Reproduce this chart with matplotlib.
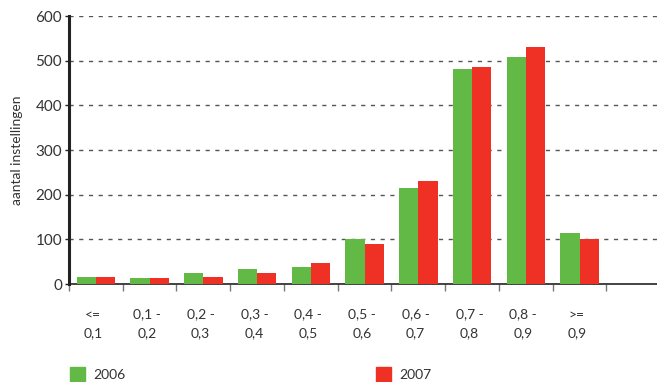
import matplotlib
matplotlib.use('Agg')
import matplotlib.pyplot as plt
import numpy as np

categories = ['<=\n0,1', '0,1 -\n0,2', '0,2 -\n0,3', '0,3 -\n0,4', '0,4 -\n0,5',
              '0,5 -\n0,6', '0,6 -\n0,7', '0,7 -\n0,8', '0,8 -\n0,9', '>=\n0,9']
values_2006 = [16, 14, 25, 34, 39, 101, 215, 481, 508, 114]
values_2007 = [16, 14, 16, 25, 48, 90, 231, 486, 531, 101]
series_labels = ['2006', '2007']
yticks = [0, 100, 200, 300, 400, 500, 600]

green = '#62b946'
red = '#ee3124'
text_color = '#333333'

plt.rcParams['font.family'] = ['Lato', 'DejaVu Sans']

fig = plt.figure(figsize=(6.57, 3.82), dpi=100)
ax = fig.add_axes([69 / 657, 1 - 284 / 382, 1 - 69 / 657, (284 - 16) / 382])

x = np.arange(len(categories)) + 0.5
w = 0.36
ax.bar(x - w / 2, values_2006, width=w, color=green, zorder=3)
ax.bar(x + w / 2, values_2007, width=w, color=red, zorder=3)

ax.set_xlim(0, 10.94)
ax.set_ylim(0, 600)
ax.set_yticks(yticks)
ax.set_yticklabels([str(v) for v in yticks], color=text_color, fontsize=11)
ax.tick_params(axis='y', length=3, width=1, color='#222222', pad=2)

ax.set_xticks(np.arange(len(categories) + 1))
ax.set_xticklabels([])
ax.tick_params(axis='x', length=5, width=1, color='#777777', direction='out')
for xi, lab in zip(x, categories):
    ax.text(xi - 0.05, -0.09, lab, transform=ax.get_xaxis_transform(), ha='center',
            va='top', fontsize=10, color=text_color, linespacing=1.7)

for y in yticks[1:]:
    ax.axhline(y, color='#555555', lw=1, ls=(0, (3, 4)), zorder=1)

for s in ['top', 'right']:
    ax.spines[s].set_visible(False)
ax.spines['left'].set_linewidth(2.2)
ax.spines['left'].set_color('#222222')
ax.spines['bottom'].set_linewidth(1.2)
ax.spines['bottom'].set_color('#222222')

fig.text(17 / 657, 1 - 150 / 382, 'aantal instellingen', rotation=90, ha='center',
         va='center', fontsize=10, color=text_color)

# legend
for px, col, lab in [(70, green, series_labels[0]), (376, red, series_labels[1])]:
    fig.patches.append(plt.Rectangle((px / 657, 1 - 383 / 382), 15 / 657, 16 / 382,
                                     transform=fig.transFigure, color=col))
    fig.text((px + 23) / 657, 1 - 375 / 382, lab, ha='left', va='center',
             fontsize=10, color=text_color)

fig.savefig('out.png', dpi=100)
